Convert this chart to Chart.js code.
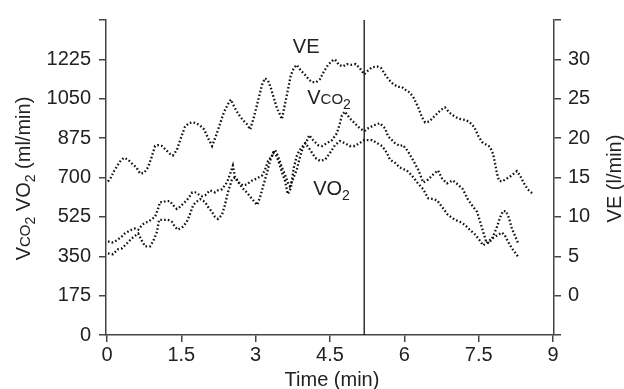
<!DOCTYPE html>
<html>
<head>
<meta charset="utf-8">
<script src="https://cdn.jsdelivr.net/npm/chart.js@4.4.1/dist/chart.umd.min.js"></script>
<style>
  html, body { margin: 0; padding: 0; background: #fff; }
  #chart { display: block; }
</style>
</head>
<body>
<canvas id="chart" width="624" height="389"></canvas>
<script>
// VE (l/min), right axis
const veTime = [0.02, 0.08, 0.14, 0.20, 0.26, 0.34, 0.42, 0.50, 0.59, 0.67, 0.75, 0.83, 0.89, 0.97, 1.03, 1.11, 1.19, 1.27, 1.33, 1.41,
    1.49, 1.57, 1.65, 1.72, 1.80, 1.88, 1.96, 2.04, 2.12, 2.20, 2.28, 2.36, 2.44, 2.50, 2.58, 2.66, 2.74, 2.82, 2.89, 2.97,
    3.05, 3.13, 3.19, 3.25, 3.31, 3.37, 3.43, 3.49, 3.53, 3.59, 3.65, 3.71, 3.77, 3.83, 3.91, 4.00, 4.08, 4.14, 4.22, 4.30,
    4.38, 4.46, 4.54, 4.60, 4.68, 4.76, 4.84, 4.94, 5.02, 5.10, 5.19, 5.27, 5.35, 5.45, 5.53, 5.61, 5.69, 5.77, 5.87, 5.95,
    6.03, 6.11, 6.19, 6.28, 6.36, 6.42, 6.50, 6.58, 6.66, 6.74, 6.82, 6.90, 6.98, 7.06, 7.14, 7.24, 7.32, 7.41, 7.49, 7.57,
    7.67, 7.73, 7.79, 7.83, 7.87, 7.91, 7.97, 8.05, 8.13, 8.21, 8.27, 8.33, 8.41, 8.49, 8.60];
const veValues = [14.5, 15.0, 15.8, 16.4, 17.0, 17.5, 17.3, 16.8, 16.3, 15.5, 15.6, 16.3, 17.4, 19.0, 19.1, 19.0, 18.5, 18.0, 17.8, 18.5,
    20.0, 21.4, 21.9, 22.0, 21.9, 21.6, 21.1, 20.0, 19.0, 20.3, 21.8, 23.3, 24.3, 24.9, 23.8, 23.0, 22.3, 21.8, 21.1, 22.8,
    24.8, 26.8, 27.6, 27.3, 26.3, 25.0, 23.8, 23.0, 22.4, 24.3, 26.1, 28.0, 28.9, 29.3, 28.6, 28.0, 27.4, 27.1, 27.1, 27.5,
    28.5, 29.3, 29.8, 30.0, 29.3, 29.1, 29.4, 29.3, 29.4, 28.9, 28.1, 28.6, 29.0, 29.1, 28.9, 28.1, 27.4, 26.9, 26.5, 26.5,
    26.1, 25.8, 25.1, 23.9, 22.6, 22.0, 22.1, 22.6, 23.1, 23.6, 23.9, 23.3, 22.9, 22.6, 22.4, 22.3, 22.0, 21.4, 20.3, 19.5,
    19.1, 18.9, 18.0, 16.8, 15.5, 14.6, 14.5, 14.8, 15.1, 15.5, 15.8, 15.3, 14.3, 13.5, 12.9];

// VCO2 (ml/min), left axis
const vco2Time = [0.02, 0.10, 0.16, 0.22, 0.30, 0.36, 0.42, 0.50, 0.56, 0.63, 0.71, 0.77, 0.83, 0.91, 0.97, 1.03, 1.07, 1.13, 1.19, 1.27,
    1.33, 1.41, 1.47, 1.53, 1.61, 1.67, 1.72, 1.78, 1.84, 1.92, 1.98, 2.08, 2.18, 2.24, 2.32, 2.42, 2.48, 2.54, 2.58, 2.64,
    2.74, 2.82, 2.93, 3.03, 3.13, 3.19, 3.25, 3.33, 3.39, 3.45, 3.53, 3.59, 3.65, 3.69, 3.75, 3.83, 3.89, 3.95, 4.04, 4.08,
    4.16, 4.26, 4.34, 4.44, 4.54, 4.64, 4.70, 4.74, 4.80, 4.90, 5.00, 5.10, 5.19, 5.27, 5.35, 5.43, 5.51, 5.61, 5.67, 5.75,
    5.81, 5.91, 5.97, 6.07, 6.17, 6.28, 6.38, 6.48, 6.58, 6.68, 6.76, 6.86, 6.98, 7.08, 7.18, 7.28, 7.39, 7.47, 7.53, 7.59,
    7.65, 7.71, 7.79, 7.87, 7.93, 7.99, 8.05, 8.11, 8.17, 8.23, 8.29];
const vco2Values = [416, 411, 416, 424, 438, 451, 459, 468, 473, 468, 490, 499, 503, 516, 525, 560, 591, 591, 595, 595,
    578, 560, 569, 582, 599, 617, 634, 634, 626, 617, 621, 643, 634, 643, 648, 678, 713, 753, 704, 678,
    665, 669, 687, 696, 709, 735, 774, 796, 823, 796, 744, 713, 678, 661, 691, 735, 788, 831, 866, 888,
    866, 844, 840, 853, 866, 897, 941, 976, 993, 963, 941, 919, 906, 919, 928, 936, 941, 919, 884, 866,
    853, 840, 844, 818, 779, 735, 678, 691, 713, 731, 696, 674, 687, 669, 648, 604, 569, 547, 503, 459,
    416, 407, 438, 481, 521, 551, 551, 521, 473, 442, 411];

// VO2 (ml/min), left axis
const vo2Time = [0.02, 0.12, 0.22, 0.30, 0.42, 0.52, 0.63, 0.71, 0.77, 0.87, 0.93, 1.01, 1.05, 1.13, 1.23, 1.31, 1.37, 1.43, 1.53, 1.61,
    1.67, 1.74, 1.80, 1.88, 1.98, 2.04, 2.12, 2.18, 2.24, 2.32, 2.38, 2.44, 2.52, 2.58, 2.64, 2.72, 2.82, 2.93, 3.03, 3.09,
    3.15, 3.23, 3.29, 3.35, 3.41, 3.47, 3.53, 3.59, 3.65, 3.71, 3.77, 3.83, 3.89, 4.00, 4.10, 4.20, 4.30, 4.40, 4.50, 4.60,
    4.70, 4.80, 4.90, 5.00, 5.10, 5.19, 5.27, 5.35, 5.45, 5.55, 5.65, 5.71, 5.81, 5.91, 6.05, 6.15, 6.26, 6.38, 6.48, 6.58,
    6.66, 6.76, 6.88, 7.02, 7.12, 7.22, 7.32, 7.43, 7.51, 7.59, 7.69, 7.77, 7.87, 7.97, 8.03, 8.09, 8.17, 8.23, 8.29];
const vo2Values = [363, 359, 381, 385, 411, 433, 451, 416, 394, 394, 416, 459, 512, 512, 512, 503, 481, 468, 481, 503,
    534, 578, 591, 604, 591, 569, 547, 525, 516, 534, 578, 634, 691, 700, 687, 656, 634, 604, 578, 613,
    661, 722, 774, 809, 801, 766, 722, 687, 626, 652, 744, 796, 823, 853, 823, 788, 774, 779, 809, 844,
    862, 853, 840, 840, 853, 866, 866, 866, 853, 840, 809, 779, 766, 744, 731, 709, 678, 648, 608, 604,
    599, 569, 534, 512, 503, 490, 468, 446, 424, 398, 416, 429, 442, 455, 442, 416, 385, 368, 350];

const xTicks = [0, 1.5, 3, 4.5, 6, 7.5, 9];
const markerTime = 5.19;

const FONT = "'Liberation Sans', Arial, Helvetica, sans-serif";
const INK = '#222';
const AXIS = '#444';

Chart.defaults.font.family = FONT;
Chart.defaults.font.size = 20;
Chart.defaults.color = INK;

const toPoints = (xs, ys) => xs.map((x, i) => ({ x: x, y: ys[i] }));

const traceStyle = {
    borderColor: '#111',
    borderWidth: 2.3,
    borderDash: [1.6, 2.2],
    pointRadius: 0,
    fill: false,
    tension: 0,
};

// text pieces: [text, size, baseline shift]
function drawRich(ctx, parts, x, y) {
    let cx = x;
    parts.forEach(([t, size, dy]) => {
        ctx.font = size + 'px ' + FONT;
        ctx.fillText(t, cx, y + (dy || 0));
        cx += ctx.measureText(t).width;
    });
}
function richWidth(ctx, parts) {
    let w = 0;
    parts.forEach(([t, size]) => {
        ctx.font = size + 'px ' + FONT;
        w += ctx.measureText(t).width;
    });
    return w;
}

const leftTitle = [['V', 20], ['CO', 15], ['2', 14, 5], [' V', 20], ['O', 20], ['2', 14, 5], [' (ml/min)', 20]];
const rightTitle = [['VE (l/min)', 20]];
const curveLabels = [
    { parts: [['VE', 20]], x: 3.75, y: 30.76, axis: 'y1' },
    { parts: [['V', 20], ['CO', 15], ['2', 14, 5]], x: 4.04, y: 1028, axis: 'y' },
    { parts: [['V', 20], ['O', 20], ['2', 14, 5]], x: 4.16, y: 621, axis: 'y' },
];

const extras = {
    id: 'extras',
    afterDatasetsDraw(chart) {
        const { ctx, chartArea, scales } = chart;
        ctx.save();
        // vertical marker
        const mx = scales.x.getPixelForValue(markerTime);
        ctx.strokeStyle = '#111';
        ctx.lineWidth = 1.3;
        ctx.beginPath();
        ctx.moveTo(mx, chartArea.top);
        ctx.lineTo(mx, chartArea.bottom);
        ctx.stroke();

        ctx.fillStyle = INK;
        ctx.textBaseline = 'alphabetic';
        ctx.textAlign = 'left';
        curveLabels.forEach(l => {
            drawRich(ctx, l.parts, scales.x.getPixelForValue(l.x), scales[l.axis].getPixelForValue(l.y));
        });

        const midY = (chartArea.top + chartArea.bottom) / 2 + 1;
        ctx.save();
        ctx.translate(30, midY);
        ctx.rotate(-Math.PI / 2);
        drawRich(ctx, leftTitle, -richWidth(ctx, leftTitle) / 2, 0);
        ctx.restore();

        ctx.save();
        ctx.translate(621, midY);
        ctx.rotate(-Math.PI / 2);
        drawRich(ctx, rightTitle, -richWidth(ctx, rightTitle) / 2, 0);
        ctx.restore();

        ctx.font = '20px ' + FONT;
        ctx.textAlign = 'center';
        ctx.fillText('Time (min)', (chartArea.left + chartArea.right) / 2 + 2, 386);
        ctx.restore();
    }
};

const tickGrid = { drawOnChartArea: false, drawTicks: true, tickLength: 7, color: AXIS, lineWidth: 1.5 };
const axisBorder = { display: true, color: AXIS, width: 1.5 };

new Chart(document.getElementById('chart'), {
    type: 'line',
    data: {
        datasets: [
            Object.assign({ label: 'VE', data: toPoints(veTime, veValues), yAxisID: 'y1' }, traceStyle),
            Object.assign({ label: 'VCO2', data: toPoints(vco2Time, vco2Values), yAxisID: 'y' }, traceStyle),
            Object.assign({ label: 'VO2', data: toPoints(vo2Time, vo2Values), yAxisID: 'y' }, traceStyle),
        ]
    },
    options: {
        responsive: false,
        animation: false,
        devicePixelRatio: 1,
        layout: { padding: { top: 14, left: 0, right: 0, bottom: 0 } },
        plugins: {
            legend: { display: false },
            tooltip: { enabled: false },
        },
        scales: {
            x: {
                type: 'linear',
                min: -0.02,
                max: 9.02,
                afterBuildTicks: s => { s.ticks = xTicks.map(v => ({ value: v })); },
                afterFit: s => { s.height = 54; },
                ticks: { color: INK, padding: 1, maxRotation: 0, autoSkip: false, callback: v => String(v) },
                grid: tickGrid,
                border: axisBorder,
            },
            y: {
                position: 'left',
                min: 0,
                max: 1400,
                afterFit: s => { s.width = 106; },
                ticks: { stepSize: 175, padding: 8, autoSkip: false, color: INK, callback: v => v === 1400 ? '' : String(v) },
                grid: tickGrid,
                border: axisBorder,
            },
            y1: {
                position: 'right',
                min: -5,
                max: 35,
                afterFit: s => { s.width = 70; },
                ticks: { stepSize: 5, padding: 7, autoSkip: false, color: INK, callback: v => (v < 0 || v > 30) ? '' : String(v) },
                grid: tickGrid,
                border: axisBorder,
            }
        }
    },
    plugins: [extras]
});
</script>
</body>
</html>
